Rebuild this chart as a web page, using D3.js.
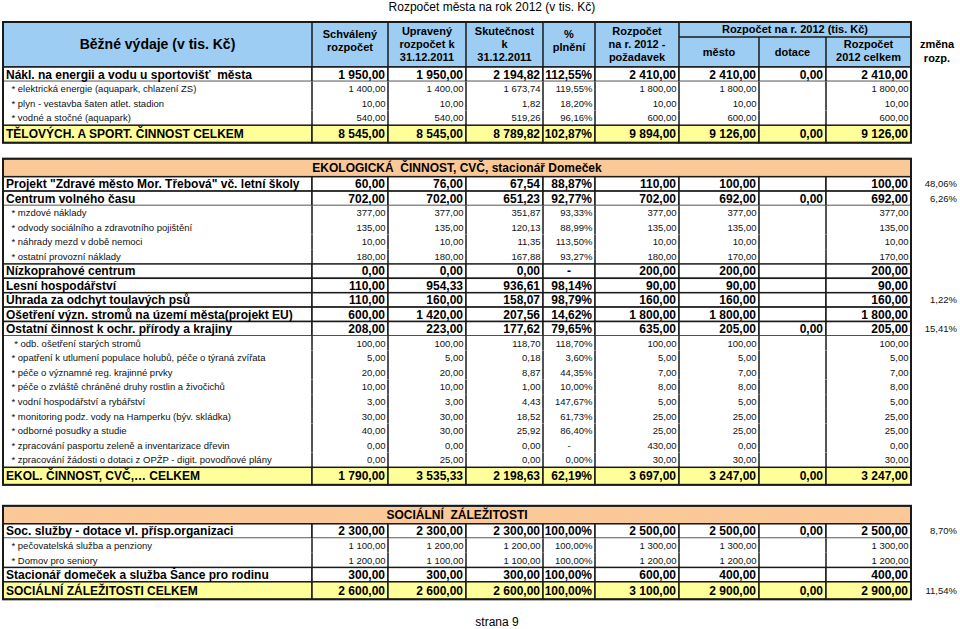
<!DOCTYPE html>
<html><head><meta charset="utf-8">
<script src="https://cdn.jsdelivr.net/npm/d3@7"></script>
<style>
html,body{margin:0;padding:0;background:#fff;}
svg{display:block;font-family:'Liberation Sans',Arial,sans-serif;}
text{white-space:pre;}
</style></head><body>
<svg id="chart" width="960" height="629"></svg>
<script>
// ---------- DATA ----------
const title = "Rozpočet města na rok 2012 (v tis. Kč)";
const footer = "strana 9";
const colKeys = ["label","schvaleny","upraveny","skutecnost","plneni","pozadavek","mesto","dotace","celkem"];
const columnHeaders = [["Běžné výdaje (v tis. Kč)"],["Schválený","rozpočet"],["Upravený","rozpočet k","31.12.2011"],["Skutečnost","k","31.12.2011"],["%","plnění"],["Rozpočet","na r. 2012 -","požadavek"],["město"],["dotace"],["Rozpočet","2012 celkem"]];
const groupHeader = "Rozpočet na r. 2012 (tis. Kč)";
const changeHeader = ["změna","rozp."];

const rowLabels = [
 "Nákl. na energii a vodu u sportovišť  města",
 "* elektrická energie (aquapark, chlazení ZS)",
 "* plyn - vestavba šaten atlet. stadion",
 "* vodné a stočné (aquapark)",
 "TĚLOVÝCH. A SPORT. ČINNOST CELKEM",
 "",
 "EKOLOGICKÁ  ČINNOST, CVČ, stacionář Domeček",
 "Projekt \"Zdravé město Mor. Třebová\" vč. letní školy",
 "Centrum volného času",
 "* mzdové náklady",
 "* odvody sociálního a zdravotního pojištění",
 "* náhrady mezd v době nemoci",
 "* ostatní provozní náklady",
 "Nízkoprahové centrum",
 "Lesní hospodářství",
 "Úhrada za odchyt toulavých psů",
 "Ošetření význ. stromů na území města(projekt EU)",
 "Ostatní činnost k ochr. přírody a krajiny",
 " * odb. ošetření starých stromů",
 "* opatření k utlumení populace holubů, péče o týraná zvířata",
 "* péče o významné reg. krajinné prvky",
 "* péče o zvláště chráněné druhy rostlin a živočichů",
 "* vodní hospodářství a rybářství",
 "* monitoring podz. vody na Hamperku (býv. skládka)",
 "* odborné posudky a studie",
 "* zpracování pasportu zeleně a inventarizace dřevin",
 "* zpracování žádosti o dotaci z OPŽP - digit. povodňové plány",
 "EKOL. ČINNOST, CVČ,… CELKEM",
 "",
 "SOCIÁLNÍ  ZÁLEŽITOSTI",
 "Soc. služby - dotace vl. přísp.organizaci",
 "* pečovatelská služba a penziony",
 "* Domov pro seniory",
 "Stacionář domeček a služba Šance pro rodinu",
 "SOCIÁLNÍ ZÁLEŽITOSTI CELKEM"
];
const rowTypes = ["main","sub","sub","sub","total","gap","section","main","main","sub","sub","sub","sub","main","main","main","main","main","sub","sub","sub","sub","sub","sub","sub","sub","sub","total","gap","section","main","sub","sub","main","total"];
const N = null;
const schvaleny  = [1950,1400,10,540,8545,N,N,60,702,377,135,10,180,0,110,110,600,208,100,5,20,10,3,30,40,0,0,1790,N,N,2300,1100,1200,300,2600];
const upraveny   = [1950,1400,10,540,8545,N,N,76,702,377,135,10,180,0,954.33,160,1420,223,100,5,20,10,3,30,30,0,25,3535.33,N,N,2300,1200,1100,300,2600];
const skutecnost = [2194.82,1673.74,1.82,519.26,8789.82,N,N,67.54,651.23,351.87,120.13,11.35,167.88,0,936.61,158.07,207.56,177.62,118.70,0.18,8.87,1.00,4.43,18.52,25.92,0,0,2198.63,N,N,2300,1200,1100,300,2600];
const plneni     = [112.55,119.55,18.20,96.16,102.87,N,N,88.87,92.77,93.33,88.99,113.50,93.27,N,98.14,98.79,14.62,79.65,118.70,3.60,44.35,10.00,147.67,61.73,86.40,N,0,62.19,N,N,100,100,100,100,100];
const pozadavek  = [2410,1800,10,600,9894,N,N,110,702,377,135,10,180,200,90,160,1800,635,100,5,7,8,5,25,25,430,30,3697,N,N,2500,1300,1200,600,3100];
const mesto      = [2410,1800,10,600,9126,N,N,100,692,377,135,10,170,200,90,160,1800,205,100,5,7,8,5,25,25,0,30,3247,N,N,2500,1300,1200,400,2900];
const dotace     = [0,N,N,N,0,N,N,N,0,N,N,N,N,N,N,N,N,0,N,N,N,N,N,N,N,N,N,0,N,N,0,N,N,N,0];
const celkem     = [2410,1800,10,600,9126,N,N,100,692,377,135,10,170,200,90,160,1800,205,100,5,7,8,5,25,25,0,30,3247,N,N,2500,1300,1200,400,2900];
const zmena      = [N,N,N,N,N,N,N,48.06,6.26,N,N,N,N,N,N,1.22,N,15.41,N,N,N,N,N,N,N,N,N,N,N,N,8.70,N,N,N,11.54];

// ---------- LAYOUT / STYLE ----------
const colEdges = [3,312,388,466,543,595,679,759,826,911];
const changeRight = 957;
const headerTop = 22, headerBottom = 67, groupLine = 37;
const rowHeight = {main:14.4, sub:14.6, total:17.5, section:18};
const gapHeights = [16, 21];
const C = {header:"#9dcdf3", section:"#fbc898", total:"#ffff99", line:"#1a1a1a", text:"#000", sub:"#111"};

const loc = d3.formatLocale({decimal:",", thousands:"\u00a0", grouping:[3], currency:["",""]});
const f2 = loc.format(",.2f");

const svg = d3.select("#chart");
const x0 = d3.scaleOrdinal().domain(colKeys).range(colEdges.slice(0,-1));
const x1 = d3.scaleOrdinal().domain(colKeys).range(colEdges.slice(1));

const valueCols = {schvaleny, upraveny, skutecnost, plneni, pozadavek, mesto, dotace, celkem};

let gi = 0;
const heights = rowTypes.map(t => t === "gap" ? gapHeights[gi++] : rowHeight[t]);
const ends = Array.from(d3.cumsum(heights), v => v + headerBottom);
const rows = rowLabels.map((label,i) => ({
  i, label, type: rowTypes[i], y: ends[i] - heights[i], h: heights[i]
}));
const y = d3.scaleOrdinal().domain(rows.map(r=>r.i)).range(rows.map(r=>r.y));

// Title
svg.append("text").attr("x", 492).attr("y", 11).attr("text-anchor","middle")
  .attr("font-size", 12).attr("fill", C.text).text(title);

// ---------- HEADER ----------
const lineW = 1.5;
const hdr = svg.append("g");
hdr.append("rect").attr("x", colEdges[0]).attr("y", headerTop)
  .attr("width", colEdges[9]-colEdges[0]).attr("height", headerBottom-headerTop)
  .attr("fill", C.header);
colEdges.slice(1,9).forEach((x,k) => {
  const top = (k+1 === 7 || k+1 === 8) ? groupLine : headerTop;
  hdr.append("line").attr("x1",x).attr("x2",x).attr("y1",top).attr("y2",headerBottom)
    .attr("stroke",C.line).attr("stroke-width",lineW);
});
hdr.append("line").attr("x1",colEdges[6]).attr("x2",colEdges[9]).attr("y1",groupLine).attr("y2",groupLine)
  .attr("stroke",C.line).attr("stroke-width",lineW);
hdr.append("line").attr("x1",colEdges[0]).attr("x2",colEdges[9]).attr("y1",headerBottom).attr("y2",headerBottom)
  .attr("stroke",C.line).attr("stroke-width",lineW);

const hdrCenters = [44, 41, 44, 44, 41, 44, 52, 52, 51];
columnHeaders.forEach((lines,k) => {
  const key = colKeys[k];
  const cx = (x0(key)+x1(key))/2;
  const fs = k===0 ? 14 : 11;
  const lh = 13;
  lines.forEach((ln,j) => {
    const cy = hdrCenters[k] + (j - (lines.length-1)/2)*lh;
    hdr.append("text").attr("x",cx).attr("y",cy + fs*0.36).attr("text-anchor","middle")
      .attr("font-size",fs).attr("font-weight","bold").attr("fill",C.text).text(ln);
  });
});
hdr.append("text").attr("x",(colEdges[6]+colEdges[9])/2).attr("y",29.5+11*0.36).attr("text-anchor","middle")
  .attr("font-size",11).attr("font-weight","bold").attr("fill",C.text).text(groupHeader);
changeHeader.forEach((ln,j) => {
  hdr.append("text").attr("x",937).attr("y",44+j*14+11*0.36).attr("text-anchor","middle")
    .attr("font-size",11).attr("font-weight","bold").attr("fill",C.text).text(ln);
});

// ---------- ROWS ----------
const body = svg.append("g");
rows.forEach(r => {
  const ry = y(r.i);
  if (r.type === "gap") return;
  if (r.type === "section") {
    body.append("rect").attr("x",colEdges[0]).attr("y",ry).attr("width",colEdges[9]-colEdges[0]).attr("height",r.h)
      .attr("fill",C.section).attr("stroke",C.line).attr("stroke-width",lineW);
    body.append("text").attr("x",(colEdges[0]+colEdges[9])/2).attr("y",ry + r.h/2 + 12*0.36)
      .attr("text-anchor","middle").attr("font-size",12).attr("font-weight","bold").attr("fill",C.text).text(r.label);
    return;
  }
  const isSub = r.type === "sub";
  const fill = r.type === "total" ? C.total : "#fff";
  colKeys.forEach(key => {
    body.append("rect").attr("x",x0(key)).attr("y",ry).attr("width",x1(key)-x0(key)).attr("height",r.h)
      .attr("fill",fill).attr("stroke", isSub ? "none" : C.line).attr("stroke-width",lineW);
  });
  if (isSub) {
    colEdges.forEach(x => body.append("line").attr("x1",x).attr("x2",x).attr("y1",ry).attr("y2",ry+r.h)
      .attr("stroke",C.line).attr("stroke-width",lineW));
  }
});
// block outlines
const blocks = [];
let start = headerTop;
rows.forEach(r => {
  if (r.type === "gap") { blocks.push([start, r.y]); start = null; }
  else if (start === null) start = r.y;
});
blocks.push([start, rows[rows.length-1].y + rows[rows.length-1].h]);
blocks.forEach(([a,b]) => body.append("rect").attr("x",colEdges[0]).attr("y",a)
  .attr("width",colEdges[9]-colEdges[0]).attr("height",b-a).attr("fill","none")
  .attr("stroke",C.line).attr("stroke-width",2));

// texts
const txt = svg.append("g");
rows.forEach(r => {
  if (r.type === "gap" || r.type === "section") return;
  const isSub = r.type === "sub";
  const fs = isSub ? 9.5 : 12;
  const fw = isSub ? "normal" : "bold";
  const col = isSub ? C.sub : C.text;
  const by = y(r.i) + r.h/2 + fs*0.36;
  txt.append("text").attr("x", x0("label") + (isSub ? 8.5 : 3)).attr("y", by)
    .attr("font-size",fs).attr("font-weight",fw).attr("fill",col).text(r.label);
  Object.entries(valueCols).forEach(([key, arr]) => {
    const v = arr[r.i];
    if (key === "plneni" && v === null) {
      txt.append("text").attr("x",(x0(key)+x1(key))/2).attr("y",by).attr("text-anchor","middle")
        .attr("font-size",fs).attr("font-weight",fw).attr("fill",col).text("-");
      return;
    }
    if (v === null) return;
    const s = key === "plneni" ? f2(v) + "%" : f2(v);
    txt.append("text").attr("x", x1(key) - (isSub ? 2.5 : 3)).attr("y", by).attr("text-anchor","end")
      .attr("font-size",fs).attr("font-weight",fw).attr("fill",col).text(s);
  });
  if (zmena[r.i] !== null) {
    txt.append("text").attr("x", changeRight).attr("y", y(r.i) + r.h/2 + 9.5*0.36).attr("text-anchor","end")
      .attr("font-size",9.5).attr("fill",C.sub).text(f2(zmena[r.i]) + "%");
  }
});

// footer
svg.append("text").attr("x",497).attr("y",626).attr("text-anchor","middle")
  .attr("font-size",12).attr("fill",C.text).text(footer);
</script>
</body></html>
